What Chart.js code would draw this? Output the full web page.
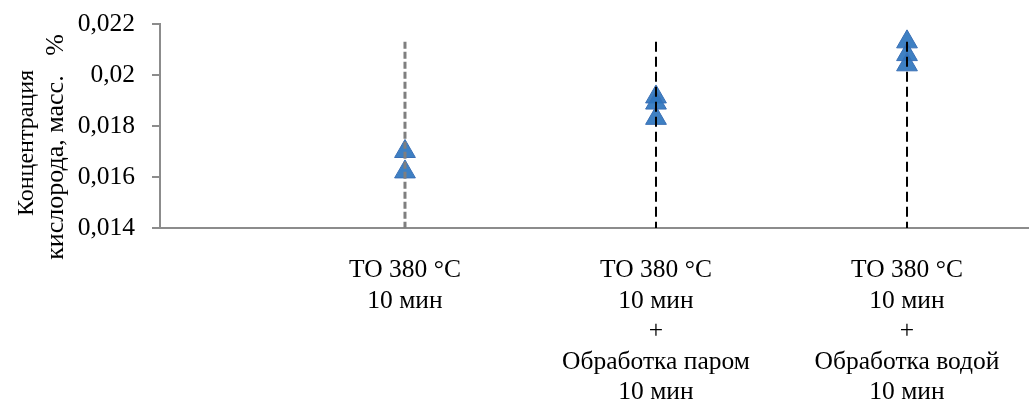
<!DOCTYPE html>
<html>
<head>
<meta charset="utf-8">
<script src="https://cdn.jsdelivr.net/npm/chart.js@4"></script>
<style>
  html, body { margin: 0; padding: 0; background: #fff; }
  #wrap { width: 1029px; height: 405px; }
</style>
</head>
<body>
<div id="wrap"><canvas id="oxygen-chart"></canvas></div>
<script>
// categories (x positions 1, 2, 3)
var categories = [
    ['ТО 380 °C', '10 мин'],
    ['ТО 380 °C', '10 мин', '+', 'Обработка паром', '10 мин'],
    ['ТО 380 °C', '10 мин', '+', 'Обработка водой', '10 мин']
];
var catX = [1, 2, 3];

// measured oxygen concentration, wt. %
var sample1 = [0.0170, 0.0162];
var sample2 = [0.01914, 0.0189, 0.0183];
var sample3 = [0.0213, 0.0208, 0.0204];

// vertical dashed range lines (top, bottom)
var rangeTop = [0.0213, 0.0213, 0.0213];
var rangeBottom = [0.014, 0.014, 0.014];

var yTicks = [0.014, 0.016, 0.018, 0.02, 0.022];
var yTitle = ['Концентрация', 'кислорода, масс.   %'];

function pts(x, arr) {
    return arr.map(function (v) { return { x: x, y: v }; });
}

var blue = 'rgba(46,117,190,0.92)';
var serif = 'Liberation Serif';

// y title drawn by hand so it can sit a bit below the plot centre, like the original
var yTitlePlugin = {
    id: 'yTitle',
    afterDraw: function (chart) {
        var c = chart.ctx;
        c.save();
        c.rotate(-Math.PI / 2);
        c.fillStyle = '#000';
        c.textAlign = 'center';
        c.textBaseline = 'alphabetic';
        c.font = '24px "Liberation Serif"';
        c.fillText(yTitle[0], -143, 33);
        c.font = '26px "Liberation Serif"';
        c.fillText(yTitle[1], -147, 63);
        c.restore();
    }
};

var ctx = document.getElementById('oxygen-chart').getContext('2d');
var myChart = new Chart(ctx, {
    type: 'scatter',
    data: {
        datasets: [
            {
                type: 'line',
                data: [{ x: catX[0], y: rangeTop[0] }, { x: catX[0], y: rangeBottom[0] }],
                borderColor: '#7f7f7f',
                borderWidth: 3,
                borderDash: [7, 3],
                pointRadius: 0,
                clip: false
            },
            {
                type: 'line',
                data: [{ x: catX[1], y: rangeTop[1] }, { x: catX[1], y: rangeBottom[1] }],
                borderColor: '#000',
                borderWidth: 2,
                borderDash: [10, 5],
                pointRadius: 0
            },
            {
                type: 'line',
                data: [{ x: catX[2], y: rangeTop[2] }, { x: catX[2], y: rangeBottom[2] }],
                borderColor: '#000',
                borderWidth: 2,
                borderDash: [10, 5],
                pointRadius: 0
            },
            {
                data: pts(catX[0], sample1).concat(pts(catX[1], sample2), pts(catX[2], sample3)),
                pointStyle: 'triangle',
                pointRadius: 12,
                pointHoverRadius: 12,
                backgroundColor: blue,
                borderColor: '#3a6fb5',
                borderWidth: 1,
                clip: false
            }
        ]
    },
    options: {
        responsive: true,
        maintainAspectRatio: false,
        animation: false,
        layout: { autoPadding: false, padding: { top: 24, right: 0, left: 0, bottom: 0 } },
        plugins: {
            legend: { display: false },
            tooltip: { enabled: false }
        },
        scales: {
            x: {
                type: 'linear',
                min: 0.024,
                max: 3.486,
                afterBuildTicks: function (scale) {
                    scale.ticks = catX.map(function (v) { return { value: v }; });
                },
                afterFit: function (scale) {
                    scale.height = 177;
                    scale.paddingLeft = 0;
                    scale.paddingRight = 0;
                },
                grid: { display: false, drawTicks: false },
                border: { display: true, color: '#8c8c8c', width: 2 },
                ticks: {
                    autoSkip: false,
                    maxRotation: 0,
                    padding: 27,
                    color: '#000',
                    font: { family: serif, size: 25.5, lineHeight: 1.2 },
                    callback: function (v) {
                        var i = catX.indexOf(v);
                        return i >= 0 ? categories[i] : '';
                    }
                }
            },
            y: {
                min: 0.014,
                max: 0.022,
                afterBuildTicks: function (scale) {
                    scale.ticks = yTicks.map(function (v) { return { value: v }; });
                },
                afterFit: function (scale) {
                    scale.width = 160;
                    scale.paddingTop = 0;
                    scale.paddingBottom = 0;
                },
                grid: { drawOnChartArea: false, drawTicks: true, tickLength: 8, color: '#8c8c8c', lineWidth: 2 },
                border: { display: true, color: '#8c8c8c', width: 2 },
                ticks: {
                    color: '#000',
                    padding: 17,
                    font: { family: serif, size: 25.5 },
                    callback: function (v) {
                        return String(+v.toFixed(3)).replace('.', ',');
                    }
                }
            }
        }
    },
    plugins: [yTitlePlugin]
});
</script>
</body>
</html>
